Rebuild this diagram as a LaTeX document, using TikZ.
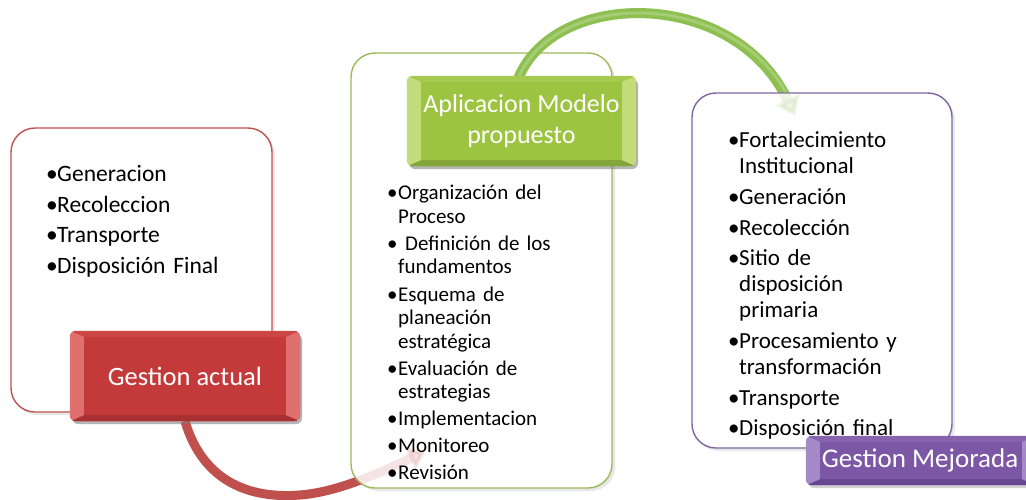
\documentclass[tikz,border=0pt]{standalone}
\usepackage{fontspec}
\setmainfont{Carlito}
\usetikzlibrary{shadows,arrows.meta,calc}
\definecolor{redB}{HTML}{C0504D}
\definecolor{redF}{HTML}{C43A3A}
\definecolor{redL}{HTML}{E07070}
\definecolor{redT}{HTML}{CC4646}
\definecolor{redD}{HTML}{A83030}
\definecolor{redArc}{HTML}{C0504D}
\definecolor{greenB}{HTML}{9BBB59}
\definecolor{greenF}{HTML}{9CC440}
\definecolor{greenL}{HTML}{C2DC7A}
\definecolor{greenT}{HTML}{A6CA50}
\definecolor{greenD}{HTML}{84A53A}
\definecolor{purpB}{HTML}{8064A2}
\definecolor{purpF}{HTML}{7C57A6}
\definecolor{purpL}{HTML}{A48AC6}
\definecolor{purpT}{HTML}{8762AF}
\definecolor{purpD}{HTML}{664890}
\newcommand{\bul}[1]{\par\hangindent=11pt\hangafter=1\noindent\strut\makebox[11pt][l]{•}#1}
\newcommand{\bevelize}[4]{%
  \begin{scope}
    \clip[rounded corners=6pt] (#1.north west) rectangle (#1.south east);
    \fill[#3] (#1.north west) -- (#1.north east) -- ($(#1.north east)+(-14,6)$) -- ($(#1.north west)+(14,6)$) -- cycle;
    \fill[#4] (#1.south west) -- (#1.south east) -- ($(#1.south east)+(-14,-6)$) -- ($(#1.south west)+(14,-6)$) -- cycle;
    \fill[#2] (#1.north west) -- ($(#1.north west)+(14,6)$) -- ($(#1.south west)+(14,-6)$) -- (#1.south west) -- cycle;
    \fill[#2] (#1.north east) -- ($(#1.north east)+(-14,6)$) -- ($(#1.south east)+(-14,-6)$) -- (#1.south east) -- cycle;
  \end{scope}}
\tikzset{
  panel/.style={line width=1.4pt, rounded corners=24pt, fill=white, inner sep=0pt,
    drop shadow={opacity=0.18, shadow xshift=3pt, shadow yshift=-3pt}},
  cbox/.style={rounded corners=6pt, inner sep=0pt, text=white, align=center,
    drop shadow={opacity=0.35, shadow xshift=2pt, shadow yshift=-3pt}},
  listtext/.style={anchor=north west, inner sep=0pt, text width=240pt, align=left},
  arcline/.style={line width=9pt},
}
\begin{document}
\begin{tikzpicture}[x=1pt,y=-1pt]
\useasboundingbox (0,0) rectangle (1026,499);
\fill[white] (0,0) rectangle (1026,499);
% ---- left panel
\node[panel, draw=redB, minimum width=261pt, minimum height=284pt] (left) at (141.5,270) {};
\node[listtext, font=\fontsize{23.5}{30.7}\selectfont] (leftlist) at (46,150.5) {\raggedright
\bul{Generacion}\bul{Recoleccion}\bul{Transporte}\bul{Disposición Final}};
% red arc (under middle panel)
\coordinate (rEnd) at (425,452);
\node[cbox, minimum width=230pt, minimum height=90pt, fill=redF] (gact) at (185,376) {};
\draw[arcline, redArc, -{Triangle[width=24pt,length=16pt]}] (gact.south) .. controls (203,482) and (250,499) .. (300,495) .. controls (340,492) and (385,470) .. (rEnd);
% middle panel
\node[panel, draw=greenB, minimum width=261pt, minimum height=435pt] (mid) at (481.5,270.5) {};
\draw[arcline, redArc, opacity=0.15, -{Triangle[width=24pt,length=16pt]}] (gact.south) .. controls (203,482) and (250,499) .. (300,495) .. controls (340,492) and (385,470) .. (rEnd);
\node[listtext, font=\fontsize{21}{23.5}\selectfont] (midlist) at (387,172.5) {\raggedright\setlength{\parskip}{3.6pt}%
\bul{Organización del\newline Proceso}\bul{\ Definición de los\newline fundamentos}\bul{Esquema de\newline planeación\newline estratégica}\bul{Evaluación de\newline estrategias}\bul{Implementacion}\bul{Monitoreo}\bul{Revisión}};
% green box position and green arc
\node[cbox, minimum width=229pt, minimum height=90pt, fill=greenF] (gmod) at (521.5,121) {};
\coordinate (gEnd) at (795,116);
\draw[arcline, line width=10pt, greenB!90!green, -{Triangle[width=26pt,length=18pt]}] ($(gmod.north)+(-3,2)$) .. controls (556,-12) and (735,-12) .. (gEnd);
\draw[line width=3pt, white, opacity=0.25] ($(gmod.north)+(-3,2)$) .. controls (556,-12) and (735,-12) .. (790,100);
% right panel
\node[panel, draw=purpB, minimum width=260pt, minimum height=355pt] (right) at (822,270.5) {};
\draw[arcline, line width=10pt, greenB, opacity=0.15, -{Triangle[width=26pt,length=18pt]}] ($(gmod.north)+(-3,2)$) .. controls (556,-12) and (735,-12) .. (gEnd);
\node[listtext, font=\fontsize{23}{26}\selectfont] (rightlist) at (728,116.8) {\raggedright\setlength{\parskip}{4.7pt}%
\bul{Fortalecimiento\newline Institucional}\bul{Generación}\bul{Recolección}\bul{Sitio de\newline disposición\newline primaria}\bul{Procesamiento y\newline transformación}\bul{Transporte}\bul{Disposición final}};
% colored boxes on top
\node[cbox, minimum width=230pt, minimum height=90pt, fill=redF] (gact2) at (gact) {};
\bevelize{gact2}{redL}{redT}{redD}
\node[text=white, font=\fontsize{26.5}{30}\selectfont] (gacttext) at (gact2) {Gestion actual};
\node[cbox, minimum width=229pt, minimum height=90pt, fill=greenF] (gmod2) at (gmod) {};
\bevelize{gmod2}{greenL}{greenT}{greenD}
\node[text=white, align=center, font=\fontsize{26}{31}\selectfont] (gmodtext) at (gmod2) {Aplicacion Modelo\\propuesto};
\node[cbox, minimum width=230pt, minimum height=49pt, fill=purpF] (gmej) at (921,460.5) {};
\bevelize{gmej}{purpL}{purpT}{purpD}
\node[text=white, font=\fontsize{27}{30}\selectfont] (gmejtext) at (920,460.5) {Gestion Mejorada};
\end{tikzpicture}
\end{document}
